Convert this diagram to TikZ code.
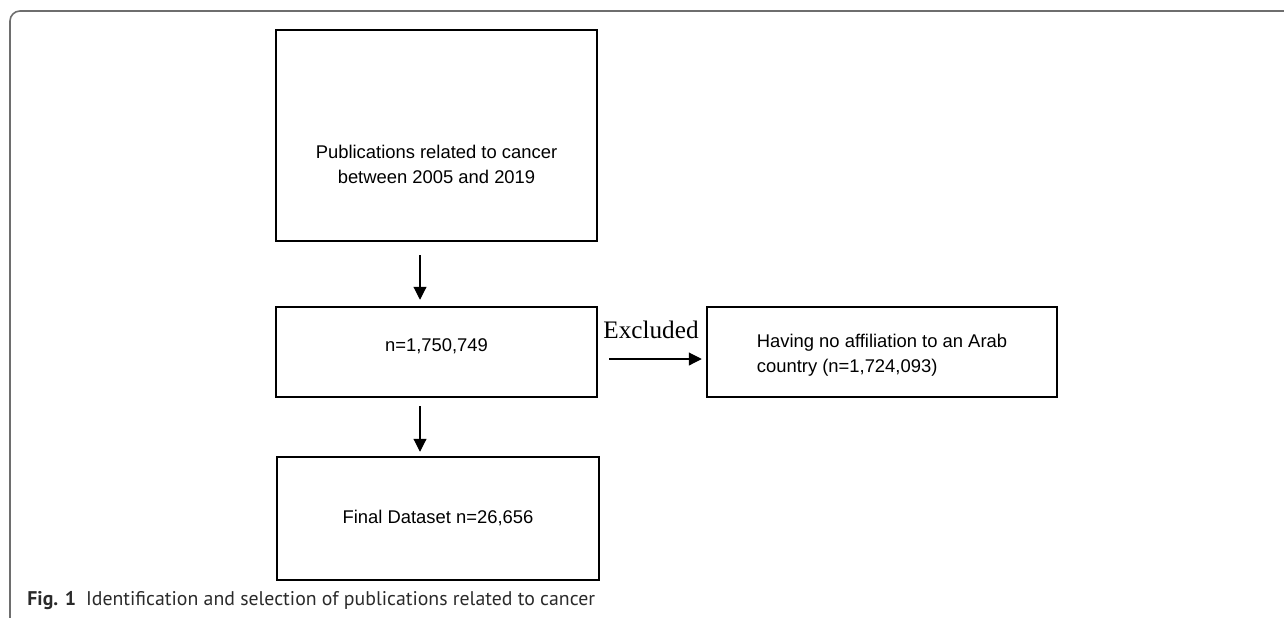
\documentclass[tikz,border=0pt]{standalone}
\usepackage{xcolor}
\usepackage{fontspec}
\setmainfont{Liberation Sans}
\newfontfamily\exclfont{Liberation Serif}
\newfontfamily\capfont{PT Sans}
\usepackage{tikz}
\usetikzlibrary{arrows.meta}
\definecolor{framegray}{HTML}{6E6E6E}
\definecolor{captext}{HTML}{2A2A2A}
\tikzset{>=stealth}
\tikzset{
  stagebox/.style={draw, line width=1.25pt, minimum width=160.5pt, inner sep=0pt},
  flowarrow/.style={-{Triangle[length=6.5pt,width=6.5pt]}, line width=0.55pt},
  boxtext/.style={font=\fontsize{9.2}{12.5}\selectfont, align=center, inner sep=0pt}
}

\begin{document}
\begin{tikzpicture}[x=0.5pt,y=-0.5pt]
      \useasboundingbox (0,0) rectangle (1284,617);
      % outer frame
      \draw[framegray, line width=0.8pt, rounded corners=5pt] (1300,11) -| (10,640);
      % boxes
      \node[stagebox, minimum height=105.5pt] (pubs) at (436.5,135.5) {};
      \node[boxtext] (pubstext) at (436.5,164) {Publications related to cancer\\between 2005 and 2019};
      \node[stagebox, minimum height=45pt] (total) at (436.5,352) {};
      \node[boxtext] (totaltext) at (436.5,346) {n=1,750,749};
      \node[stagebox, minimum width=161pt, minimum height=61.5pt] (final) at (438,518.5) {};
      \node[boxtext] (finaltext) at (438,518) {Final Dataset n=26,656};
      \node[stagebox, minimum width=175pt, minimum height=45pt] (excl) at (882,352) {};
      \node[boxtext, align=left] (excltext) at (882,355) {Having no affiliation to an Arab\\country (n=1,724,093)};
      % arrows
      \draw[flowarrow, shorten <=6.5pt, shorten >=3pt] ([xshift=-8.25pt]pubs.south) -- ([xshift=-8.25pt]total.north);
      \draw[flowarrow, shorten <=4pt, shorten >=2pt] ([xshift=-8.25pt]total.south) -- ([xshift=-9pt]final.north);
      \draw[flowarrow, shorten <=5.5pt, shorten >=2pt] ([yshift=-3.5pt]total.east) -- ([yshift=-3.5pt]excl.west);
      \node[anchor=base, font=\exclfont\fontsize{12.6}{14}\selectfont, inner sep=0pt] (excllabel) at (651,338) {Excluded};
      % caption
      \node[anchor=base west, inner sep=0pt, text=captext, font=\capfont\fontsize{9.9}{12}\selectfont] (caption) at (27,605)
        {\textbf{Fig. 1}\hspace{5pt}Identification and selection of publications related to cancer};
\end{tikzpicture}
\end{document}
